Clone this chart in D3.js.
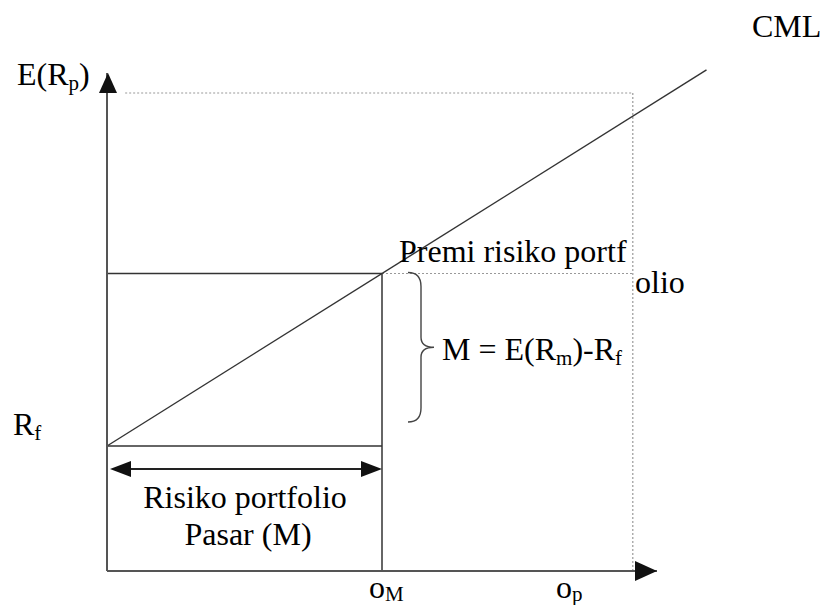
<!DOCTYPE html>
<html><head><meta charset="utf-8"><script src="https://cdn.jsdelivr.net/npm/d3@7"></script></head>
<body style="margin:0">
<svg id="chart" width="825" height="605"></svg>
<script>
// Capital Market Line: risk (σ) on x, expected return E(Rp) on y
const riskFree = [5];            // Rf
const marketRisk = [5];          // σM
const marketReturn = [11.9];     // E(Rm)
const portfolioRisk = [9.56];    // σp
const cmlRisk = [0, 10.9];       // CML drawn from Rf out past σp
const axisMax = [10, 19.92];     // x / y axis arrow tips
const guideTop = [19.12];        // dotted guide level
const guideLeft = [0.33];
const spanLevel = [4.08];        // level of the double-headed σM arrow
const braceLow = [5.96];         // lower end of the premium brace

const svg = d3.select("#chart");
const x = d3.scaleLinear().domain([0, 10]).range([107, 657]);
const y = d3.scaleLinear().domain([0, 20]).range([571, 71]);

const rf = riskFree[0], sM = marketRisk[0], eM = marketReturn[0], sP = portfolioRisk[0];
const slope = (eM - rf) / sM;
const cml = cmlRisk.map(s => [s, rf + slope * s]);

const solid = "#333", dotted = "#999";
const line = d3.line().x(d => x(d[0])).y(d => y(d[1]));

// dotted guides
const g = svg.append("g").attr("fill", "none").attr("stroke", dotted)
  .attr("stroke-width", 1.2).attr("stroke-dasharray", "2,2");
g.append("path").attr("d", line([[guideLeft[0], guideTop[0]], [sP, guideTop[0]]]));
g.append("path").attr("d", line([[sP, guideTop[0]], [sP, 0]]));
g.append("path").attr("d", line([[sM, eM], [sP, eM]]));

// solid construction lines
const s = svg.append("g").attr("fill", "none").attr("stroke", solid).attr("stroke-width", 1.5);
s.append("path").attr("d", line([[0, eM], [sM, eM]]));
s.append("path").attr("d", line([[sM, eM], [sM, 0]]));
s.append("path").attr("d", line([[0, rf], [sM, rf]]));
s.append("path").attr("d", line(cml)).attr("stroke-width", 1.4);

// axes with arrowheads
const ax = svg.append("g");
ax.append("path").attr("d", line([[0, 0], [axisMax[0], 0]]))
  .attr("stroke", "#555").attr("stroke-width", 2).attr("fill", "none");
ax.append("path").attr("d", line([[0, 0], [0, axisMax[1]]]))
  .attr("stroke", "#555").attr("stroke-width", 2).attr("fill", "none");

function head(tx, ty, dir, len, half) {
  // dir: unit vector pointing toward the tip
  const [dx, dy] = dir;
  const bx = tx - dx * len, by = ty - dy * len;
  const px = -dy * half, py = dx * half;
  return `M${tx},${ty}L${bx + px},${by + py}L${bx - px},${by - py}Z`;
}
ax.append("path").attr("d", head(x(axisMax[0]), y(0), [1, 0], 22, 10)).attr("fill", "#111");
ax.append("path").attr("d", head(x(0) + 1, y(axisMax[1]), [0, -1], 20, 9)).attr("fill", "#111");

// double-headed arrow spanning σM
const ay = y(spanLevel[0]);
svg.append("path").attr("d", `M${x(0) + 12},${ay}L${x(sM) - 12},${ay}`)
  .attr("stroke", "#222").attr("stroke-width", 2.2);
svg.append("path").attr("d", head(x(0) + 3, ay, [-1, 0], 21, 8)).attr("fill", "#111");
svg.append("path").attr("d", head(x(sM), ay, [1, 0], 21, 8)).attr("fill", "#111");

// brace for the market risk premium
const bTop = y(eM) - 1, bBot = y(braceLow[0]);
const bx0 = x(sM) + 26, bx1 = bx0 + 13, bx2 = bx0 + 26;
const bMid = (bTop + bBot) / 2;
svg.append("path")
  .attr("d", `M${bx0},${bTop} Q${bx1},${bTop} ${bx1},${bTop + 14}
              L${bx1},${bMid - 10} Q${bx1},${bMid} ${bx2},${bMid}
              Q${bx1},${bMid} ${bx1},${bMid + 10}
              L${bx1},${bBot - 14} Q${bx1},${bBot} ${bx0},${bBot}`)
  .attr("fill", "none").attr("stroke", "#444").attr("stroke-width", 1.4);

// labels: each run is its own <text>, subscripts set lower and smaller
const fs = 32, sub = 21;
function run(tx, ty, str, size, anchor) {
  return svg.append("text").attr("x", tx).attr("y", ty).attr("font-size", size)
    .style("font-family", "'Times New Roman'")
    .attr("text-anchor", anchor || "start").text(str);
}
function label(tx, ty, parts, anchor) {
  if (anchor === "middle") { run(tx, ty, parts[0], fs, "middle"); return; }
  let cx = tx;
  parts.forEach(p => {
    const t = typeof p === "string" ? run(cx, ty, p, fs) : run(cx, ty + p.dy, p.s, sub);
    cx += t.node().getComputedTextLength();
  });
}
label(752, 37, ["CML"]);
label(17, 85, ["E(R", {s: "p", dy: 5}, ")"]);
label(13, 435, ["R", {s: "f", dy: 5}]);
label(399, 262, ["Premi risiko portf"]);
label(635, 293, ["olio"]);
label(442, 360, ["M = E(R", {s: "m", dy: 5}, ")-R", {s: "f", dy: 5}]);
label(245, 508, ["Risiko portfolio"], "middle");
label(248, 545, ["Pasar (M)"], "middle");
label(369, 598, ["o", {s: "M", dy: 3}]);
label(556, 598, ["o", {s: "p", dy: 3}]);
</script>
</body>
</html>
